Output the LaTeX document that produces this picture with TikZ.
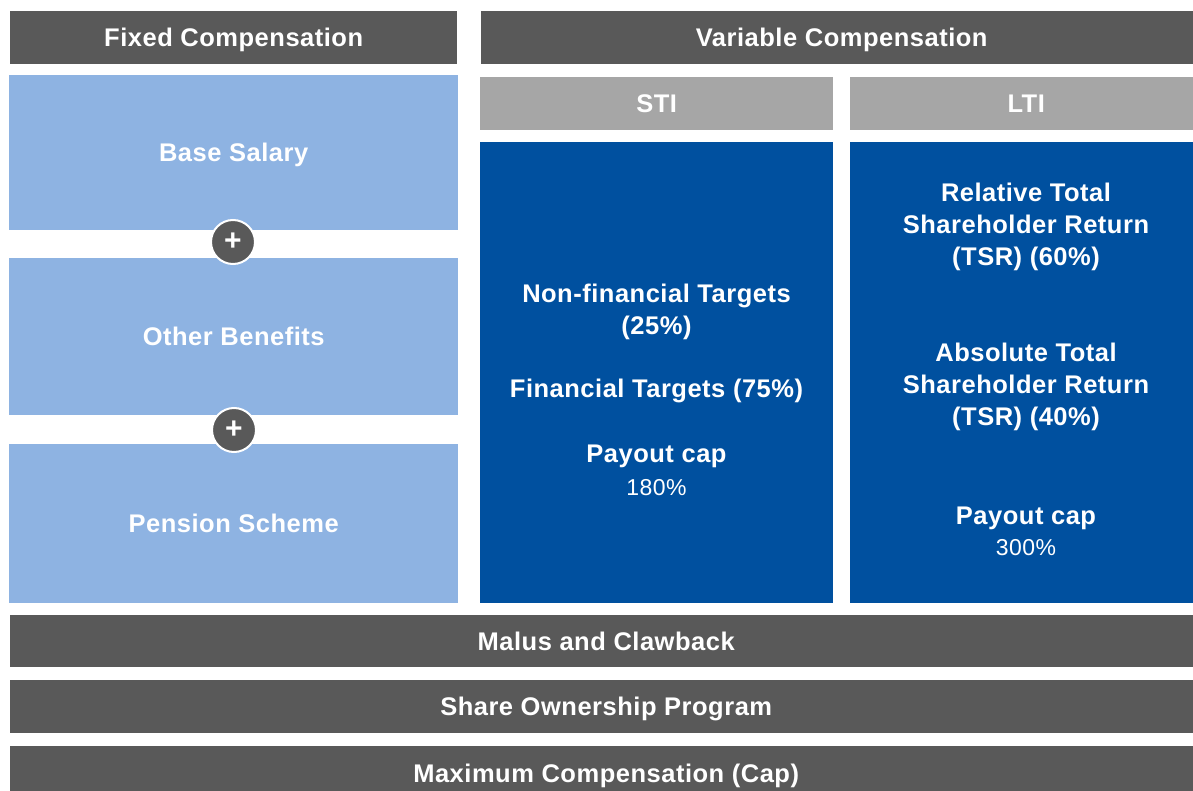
\documentclass[tikz,border=0pt]{standalone}
\usepackage{fontspec}
\setmainfont{Liberation Sans}[LetterSpace=2]
\newfontfamily\plainsans{Liberation Sans}
\definecolor{hdrgrey}{HTML}{595959}
\definecolor{subgrey}{HTML}{A6A6A6}
\definecolor{lightblue}{HTML}{8EB3E2}
\definecolor{deepblue}{HTML}{00509F}
\tikzset{
  panel/.style={rectangle, inner sep=0pt, anchor=north west, text=white,
    font=\fontsize{25.5}{32}\selectfont\bfseries, text height=18.5pt, text depth=0pt},
  hdr/.style={panel, fill=hdrgrey},
  subhdr/.style={panel, fill=subgrey},
  fixedbox/.style={panel, fill=lightblue},
  varbox/.style={panel, fill=deepblue},
  bodytext/.style={inner sep=0pt, text=white, align=center, yshift=-3pt,
    font=\fontsize{25.5}{32}\selectfont\bfseries},
  pcttext/.style={inner sep=0pt, text=white, yshift=-1pt,
    font=\fontsize{23}{28}\selectfont},
  plusdot/.style={circle, fill=hdrgrey, draw=white, line width=2pt,
    minimum size=44pt, inner sep=0pt, text=white,
    font=\plainsans\fontsize{30}{30}\selectfont\bfseries}
}
\begin{document}
\begin{tikzpicture}[x=1pt,y=-1pt]
\useasboundingbox (0,0) rectangle (1193,791);

% column headers
\node[hdr, minimum width=447pt, minimum height=53pt] (fixedhdr) at (10,11) {Fixed Compensation};
\node[hdr, minimum width=721pt, minimum height=53pt] (varhdr) at (481,11) {Variable Compensation};
\node[subhdr, minimum width=353pt, minimum height=53pt] (stihdr) at (480,77) {STI};
\node[subhdr, minimum width=352pt, minimum height=53pt] (ltihdr) at (850,77) {LTI};

% fixed compensation components
\node[fixedbox, minimum width=449pt, minimum height=155pt] (base) at (9,75) {Base Salary};
\node[fixedbox, minimum width=449pt, minimum height=157pt] (other) at (9,258) {Other Benefits};
\node[fixedbox, minimum width=449pt, minimum height=159pt] (pension) at (9,444) {Pension Scheme};

\node[plusdot] (plusA) at (233,242) {\raisebox{1pt}{+}};
\node[plusdot] (plusB) at (234,430) {\raisebox{1pt}{+}};

% variable compensation panels
\node[varbox, minimum width=353pt, minimum height=461pt] (sti) at (480,142) {};
\node[varbox, minimum width=352pt, minimum height=461pt] (lti) at (850,142) {};

\node[bodytext] (stiA) at (656.5,309) {Non-financial Targets\\(25\%)};
\node[bodytext] (stiB) at (656.5,388) {Financial Targets (75\%)};
\node[bodytext] (stiC) at (656.5,453) {Payout cap};
\node[pcttext] (stiD) at (656.5,487) {180\%};

\node[bodytext] (ltiA) at (1026,224) {Relative Total\\Shareholder Return\\(TSR) (60\%)};
\node[bodytext] (ltiB) at (1026,384) {Absolute Total\\Shareholder Return\\(TSR) (40\%)};
\node[bodytext] (ltiC) at (1026,515) {Payout cap};
\node[pcttext] (ltiD) at (1026,547) {300\%};

% overarching elements
\node[hdr, minimum width=1192pt, minimum height=52pt] (malus) at (10,615) {Malus and Clawback};
\node[hdr, minimum width=1192pt, minimum height=53pt] (share) at (10,680) {Share Ownership Program};
\node[hdr, minimum width=1192pt, minimum height=54pt] (maxcap) at (10,746) {Maximum Compensation (Cap)};
\end{tikzpicture}
\end{document}
